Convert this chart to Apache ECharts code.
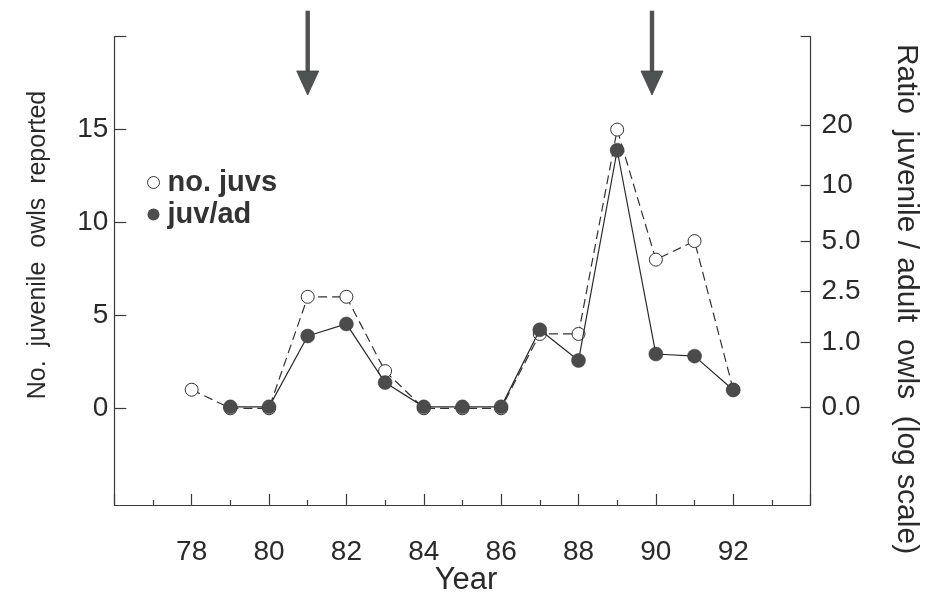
<!DOCTYPE html>
<html>
<head>
<meta charset="utf-8">
<title>Juvenile owls reported, 1978-1992</title>
<script src="https://cdn.jsdelivr.net/npm/echarts@6/dist/echarts.min.js"></script>
<style>
  html, body { margin: 0; padding: 0; background: #ffffff; }
  #chart { width: 933px; height: 606px; }
</style>
</head>
<body>
<div id="chart"></div>
<script>
// Survey years (19xx)
const countYears = [78, 79, 80, 81, 82, 83, 84, 85, 86, 87, 88, 89, 90, 91, 92];
// Number of juvenile owls reported each year
const juvCounts = [1, 0, 0, 6, 6, 2, 0, 0, 0, 4, 4, 15, 8, 9, 1];

// Years with a juvenile / adult ratio
const ratioYears = [79, 80, 81, 82, 83, 84, 85, 86, 87, 88, 89, 90, 91, 92];
// Ratio of juvenile to adult owls
const juvAdRatio = [0, 0, 1.15, 1.45, 0.3, 0, 0, 0, 1.3, 0.65, 15, 0.77, 0.73, 0.2];

// Left axis ticks
const countTicks = [0, 5, 10, 15, 20];
const countTickLabels = [0, 5, 10, 15];

// Right axis ticks (ratio, shown on a log(1 + r) scale)
const ratioTickValues = [0, 1, 2.5, 5, 10, 20];
const ratioTickLabels = ['0.0', '1.0', '2.5', '5.0', '10', '20'];

// Years flagged with arrows above the plot
const arrowYears = [81, 89.9];

const FONT = '"Liberation Sans", Arial, Helvetica, sans-serif';
const INK = '#2a2a2a';
const AXIS = '#3a3a3a';

const toLog = r => Math.log10(r + 1);
const ratioTickPos = ratioTickValues.map(toLog);
const RATIO_MIN = -0.46;
const RATIO_MAX = 1.737;

const chart = echarts.init(document.getElementById('chart'), null, { renderer: 'canvas' });

chart.setOption({
  animation: false,
  backgroundColor: '#ffffff',
  grid: { left: 114.3, right: 122.4, top: 36.7, bottom: 101.1, containLabel: false },
  legend: {
    orient: 'vertical',
    left: 142,
    top: 163,
    itemGap: 3,
    itemWidth: 12,
    itemHeight: 12,
    icon: 'circle',
    selectedMode: false,
    lineStyle: { opacity: 0 },
    textStyle: { fontFamily: FONT, fontSize: 29, fontWeight: 'bold', color: '#333333', padding: [0, 0, 0, 3] },
    data: [
      { name: 'no. juvs', itemStyle: { color: '#ffffff', borderColor: '#333333', borderWidth: 1 } },
      { name: 'juv/ad', itemStyle: { color: '#4d4d4d', borderWidth: 0 } }
    ]
  },
  xAxis: {
    type: 'value',
    min: 76,
    max: 94,
    interval: 2,
    name: 'Year',
    nameLocation: 'middle',
    nameGap: 60,
    nameMoveOverlap: false,
    nameTextStyle: { fontFamily: FONT, fontSize: 31, color: INK, padding: [0, 0, 0, 7] },
    axisLine: { show: true, onZero: false, lineStyle: { color: AXIS, width: 1.2 } },
    axisTick: { show: true, inside: true, length: 11, lineStyle: { color: AXIS, width: 1.2 } },
    minorTick: { show: true, splitNumber: 2, length: 5, lineStyle: { color: AXIS, width: 1.2 } },
    axisLabel: {
      margin: 33,
      fontFamily: FONT,
      fontSize: 28,
      color: INK,
      formatter: v => (v <= 76 || v >= 94) ? '' : String(v)
    },
    splitLine: { show: false },
    minorSplitLine: { show: false }
  },
  yAxis: [
    {
      type: 'value',
      position: 'left',
      min: -5.2,
      max: 20,
      axisLine: { show: true, onZero: false, lineStyle: { color: AXIS, width: 1.2 } },
      axisTick: { show: true, inside: true, length: 12, customValues: countTicks, lineStyle: { color: AXIS, width: 1.2 } },
      axisLabel: { margin: 6, fontFamily: FONT, fontSize: 28, color: INK, customValues: countTickLabels },
      splitLine: { show: false }
    },
    {
      type: 'value',
      position: 'right',
      min: RATIO_MIN,
      max: RATIO_MAX,
      axisLine: { show: true, onZero: false, lineStyle: { color: AXIS, width: 1.2 } },
      axisTick: { show: true, inside: true, length: 10, customValues: ratioTickPos.concat([RATIO_MAX]), lineStyle: { color: AXIS, width: 1.2 } },
      axisLabel: {
        margin: 11,
        fontFamily: FONT,
        fontSize: 28,
        color: INK,
        customValues: ratioTickPos,
        formatter: v => {
          const i = ratioTickPos.findIndex(p => Math.abs(p - v) < 1e-6);
          return i >= 0 ? ratioTickLabels[i] : '';
        }
      },
      splitLine: { show: false }
    }
  ],
  graphic: [
    {
      type: 'text',
      x: 38,
      y: 245,
      rotation: Math.PI / 2,
      style: {
        text: 'No.  juvenile  owls  reported',
        fontFamily: FONT,
        fontSize: 25,
        fill: INK,
        align: 'center',
        verticalAlign: 'middle'
      }
    },
    {
      type: 'text',
      x: 906,
      y: 299,
      rotation: -Math.PI / 2,
      style: {
        text: 'Ratio  juvenile / adult  owls  (log scale)',
        fontFamily: FONT,
        fontSize: 30,
        fill: INK,
        align: 'center',
        verticalAlign: 'middle'
      }
    }
  ],
  series: [
    {
      name: 'no. juvs',
      type: 'line',
      xAxisIndex: 0,
      yAxisIndex: 0,
      data: countYears.map((yr, i) => [yr, juvCounts[i]]),
      symbol: 'circle',
      symbolSize: 13,
      showAllSymbol: true,
      itemStyle: { color: '#ffffff', borderColor: '#333333', borderWidth: 1 },
      lineStyle: { color: '#333333', width: 1.2, type: [9, 5] },
      z: 2
    },
    {
      name: 'juv/ad',
      type: 'line',
      xAxisIndex: 0,
      yAxisIndex: 1,
      data: ratioYears.map((yr, i) => [yr, toLog(juvAdRatio[i])]),
      symbol: 'circle',
      symbolSize: 14,
      showAllSymbol: true,
      itemStyle: { color: '#4b4b4b', borderColor: '#3a3a3a', borderWidth: 0.5 },
      lineStyle: { color: '#2a2a2a', width: 1.2 },
      z: 3
    },
    {
      // Downward arrows marking two years of interest
      name: 'arrows',
      type: 'custom',
      xAxisIndex: 0,
      yAxisIndex: 0,
      clip: false,
      silent: true,
      z: 4,
      data: arrowYears.map(yr => [yr, 21.4, 16.86]),
      renderItem: (params, api) => {
        const top = api.coord([api.value(0), api.value(1)]);
        const tip = api.coord([api.value(0), api.value(2)]);
        const headLen = 24;
        const headHalf = 11;
        const baseY = tip[1] - headLen;
        return {
          type: 'group',
          children: [
            {
              type: 'rect',
              shape: { x: top[0] - 2.2, y: top[1], width: 4.4, height: baseY - top[1] + 2 },
              style: { fill: '#4f5252' }
            },
            {
              type: 'polygon',
              shape: { points: [[tip[0] - headHalf, baseY], [tip[0] + headHalf, baseY], [tip[0], tip[1]]] },
              style: { fill: '#4f5252', stroke: '#3f4242', lineWidth: 0.8 }
            }
          ]
        };
      }
    }
  ]
});
</script>
</body>
</html>
